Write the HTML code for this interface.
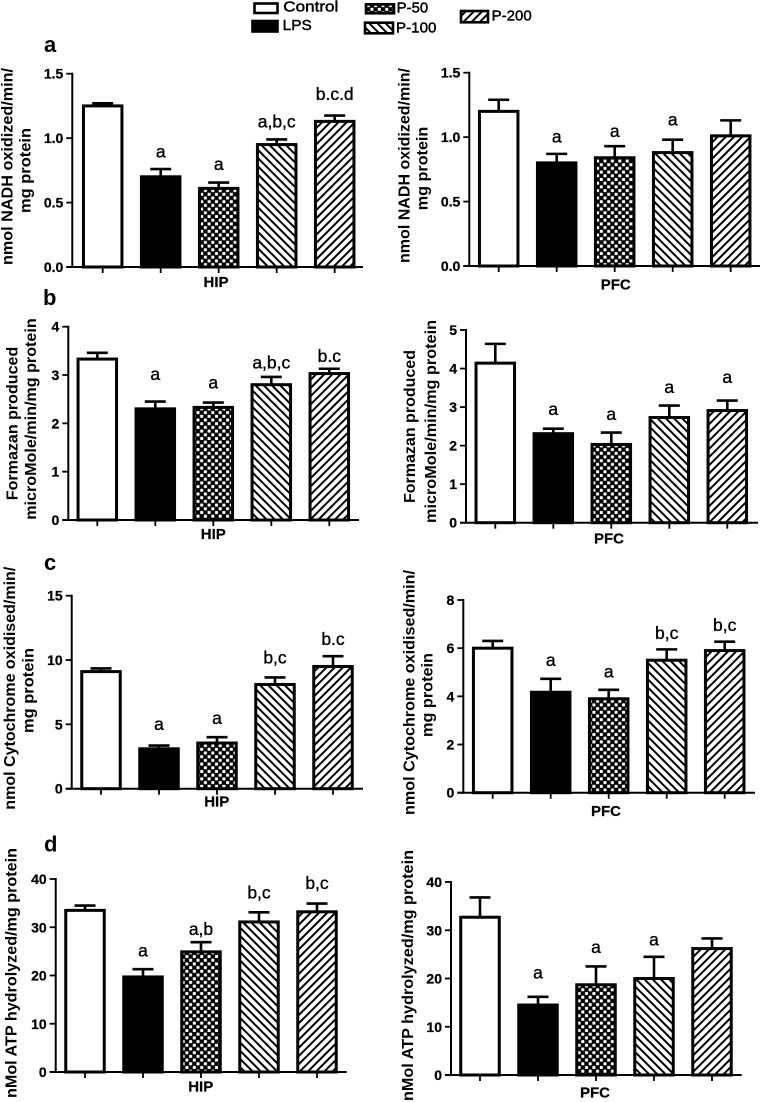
<!DOCTYPE html>
<html lang="en">
<head>
<meta charset="utf-8">
<title>Mitochondrial enzyme activity bar charts</title>
<style>
  html, body { margin: 0; padding: 0; background: #fff; }
  body { width: 761px; height: 1102px; overflow: hidden; }
  svg { display: block; font-family: "Liberation Sans", Arial, sans-serif; filter: blur(0.3px); }
</style>
</head>
<body>
<svg id="figure" xmlns="http://www.w3.org/2000/svg" width="761" height="1102" viewBox="0 0 761 1102">
  <defs>
    <pattern id="fill-check" width="7.4" height="7.4" patternUnits="userSpaceOnUse">
      <rect width="7.4" height="7.4" fill="#000"/>
      <rect x="0.4" y="0.4" width="3" height="3" fill="#fff"/>
      <rect x="4.1" y="4.1" width="3" height="3" fill="#fff"/>
    </pattern>
    <pattern id="fill-back" width="5.8" height="5.8" patternUnits="userSpaceOnUse" patternTransform="rotate(-45)">
      <rect width="5.8" height="5.8" fill="#fff"/>
      <rect width="2" height="5.8" fill="#000"/>
    </pattern>
    <pattern id="fill-fwd" width="5.8" height="5.8" patternUnits="userSpaceOnUse" patternTransform="rotate(45)">
      <rect width="5.8" height="5.8" fill="#fff"/>
      <rect width="2" height="5.8" fill="#000"/>
    </pattern>
  </defs>
</svg>
<script>
// ---- chart data ----
const categories = ['Control', 'LPS', 'P-50', 'P-100', 'P-200'];

const nadhTicks = ['0.0', '0.5', '1.0', '1.5'];
const formazanHipTicks = ['0', '1', '2', '3', '4'];
const formazanPfcTicks = ['0', '1', '2', '3', '4', '5'];
const cytHipTicks = ['0', '5', '10', '15'];
const cytPfcTicks = ['0', '2', '4', '6', '8'];
const atpTicks = ['0', '10', '20', '30', '40'];

const nadhHipValues = [1.25, 0.70, 0.61, 0.95, 1.13];
const nadhHipErrors = [0.02, 0.06, 0.045, 0.04, 0.045];
const nadhHipSig = ['', 'a', 'a', 'a,b,c', 'b.c.d'];
const nadhHipSigLevels = [0, 0.851, 0.753, 1.084, 1.296];

const nadhPfcValues = [1.20, 0.80, 0.84, 0.88, 1.01];
const nadhPfcErrors = [0.09, 0.07, 0.09, 0.10, 0.12];
const nadhPfcSig = ['', 'a', 'a', 'a', ''];
const nadhPfcSigLevels = [0, 0.958, 1.0, 1.09, 0];

const formazanHipValues = [3.33, 2.30, 2.33, 2.80, 3.03];
const formazanHipErrors = [0.13, 0.15, 0.10, 0.16, 0.10];
const formazanHipSig = ['', 'a', 'a', 'a,b,c', 'b.c'];
const formazanHipSigLevels = [0, 2.90, 2.72, 3.14, 3.27];

const formazanPfcValues = [4.14, 2.31, 2.03, 2.73, 2.91];
const formazanPfcErrors = [0.50, 0.13, 0.31, 0.31, 0.26];
const formazanPfcSig = ['', 'a', 'a', 'a', 'a'];
const formazanPfcSigLevels = [0, 2.79, 2.66, 3.36, 3.63];

const cytHipValues = [9.1, 3.1, 3.55, 8.1, 9.5];
const cytHipErrors = [0.25, 0.25, 0.45, 0.55, 0.80];
const cytHipSig = ['', 'a', 'a', 'b,c', 'b.c'];
const cytHipSigLevels = [0, 4.56, 5.03, 9.74, 11.17];

const cytPfcValues = [6.0, 4.17, 3.9, 5.5, 5.9];
const cytPfcErrors = [0.30, 0.56, 0.37, 0.45, 0.37];
const cytPfcSig = ['', 'a', 'a', 'b,c', 'b,c'];
const cytPfcSigLevels = [0, 5.26, 4.79, 6.39, 6.72];

const atpHipValues = [33.5, 19.7, 24.9, 31.1, 33.2];
const atpHipErrors = [1.0, 1.6, 2.0, 2.0, 1.7];
const atpHipSig = ['', 'a', 'a,b', 'b,c', 'b,c'];
const atpHipSigLevels = [0, 23.9, 28.4, 36.0, 37.9];

const atpPfcValues = [32.7, 14.5, 18.7, 20.0, 26.2];
const atpPfcErrors = [4.1, 1.7, 3.8, 4.5, 2.1];
const atpPfcSig = ['', 'a', 'a', 'a', ''];
const atpPfcSigLevels = [0, 20.0, 25.3, 26.8, 0];

// ---- panel layout ----
const barFills = ['#fff', '#000', 'url(#fill-check)', 'url(#fill-back)', 'url(#fill-fwd)'];
const barStep = 58;
const barWidth = 38.5;

const panels = [
  { id: 'nadh-hip', axisX: 72.3, top: 73.7, base: 267, first: 102.7, end: 363, ticks: nadhTicks, values: nadhHipValues, errors: nadhHipErrors, sig: nadhHipSig, sigLevels: nadhHipSigLevels,
    region: 'HIP', regionX: 216, regionY: 287,
    titles: [['nmol NADH oxidized/min/', 12.5, 68, 197], ['mg protein', 30.7, 128, 85]] },
  { id: 'nadh-pfc', axisX: 469.3, top: 72.7, base: 266, first: 498.7, end: 760, ticks: nadhTicks, values: nadhPfcValues, errors: nadhPfcErrors, sig: nadhPfcSig, sigLevels: nadhPfcSigLevels,
    region: 'PFC', regionX: 615.7, regionY: 289.3,
    titles: [['nmol NADH oxidized/min/', 409.3, 68, 195], ['mg protein', 427.3, 126.7, 83.5]] },
  { id: 'formazan-hip', axisX: 68.3, top: 326.7, base: 520, first: 97.3, end: 359, ticks: formazanHipTicks, values: formazanHipValues, errors: formazanHipErrors, sig: formazanHipSig, sigLevels: formazanHipSigLevels,
    region: 'HIP', regionX: 213.3, regionY: 539,
    titles: [['Formazan produced', 17.3, 346.7, 153.5], ['microMole/min/mg protein', 36, 318.3, 201.5]] },
  { id: 'formazan-pfc', axisX: 466, top: 330, base: 522.7, first: 495.3, end: 758, ticks: formazanPfcTicks, values: formazanPfcValues, errors: formazanPfcErrors, sig: formazanPfcSig, sigLevels: formazanPfcSigLevels,
    region: 'PFC', regionX: 609, regionY: 543.3,
    titles: [['Formazan produced', 415, 350, 153], ['microMole/min/mg protein', 436, 320, 203]] },
  { id: 'cytochrome-hip', axisX: 71.7, top: 595.7, base: 788.7, first: 101, end: 363, ticks: cytHipTicks, values: cytHipValues, errors: cytHipErrors, sig: cytHipSig, sigLevels: cytHipSigLevels,
    region: 'HIP', regionX: 216.7, regionY: 806.7,
    titles: [['nmol Cytochrome oxidised/min/', 15, 566.7, 243], ['mg protein', 33.3, 648, 85]] },
  { id: 'cytochrome-pfc', axisX: 463.3, top: 600, base: 792.7, first: 492.7, end: 755, ticks: cytPfcTicks, values: cytPfcValues, errors: cytPfcErrors, sig: cytPfcSig, sigLevels: cytPfcSigLevels,
    region: 'PFC', regionX: 606, regionY: 816,
    titles: [['nmol Cytochrome oxidised/min/', 414.3, 570, 245], ['mg protein', 432.7, 653, 84]] },
  { id: 'atp-hip', axisX: 55.7, top: 879, base: 1072, first: 85, end: 346.7, ticks: atpTicks, values: atpHipValues, errors: atpHipErrors, sig: atpHipSig, sigLevels: atpHipSigLevels,
    region: 'HIP', regionX: 200.7, regionY: 1091.7,
    titles: [['nMol ATP hydrolyzed/mg protein', 16.7, 848, 250]] },
  { id: 'atp-pfc', axisX: 451, top: 882, base: 1075, first: 480, end: 741.7, ticks: atpTicks, values: atpPfcValues, errors: atpPfcErrors, sig: atpPfcSig, sigLevels: atpPfcSigLevels,
    region: 'PFC', regionX: 595, regionY: 1097.3,
    titles: [['nMol ATP hydrolyzed/mg protein', 413, 850, 251]] }
];

const panelLetters = [['a', 44, 52], ['b', 43, 305], ['c', 44, 570], ['d', 44, 851.5]];

const legendBoxes = [
  { x: 254.5, y: 3.5, w: 23, h: 9.5, tx: 283.3, ty: 11.7, tl: 55 },
  { x: 252.5, y: 21, w: 25, h: 10.5, tx: 282.7, ty: 30, tl: 29 },
  { x: 366, y: 4.3, w: 28, h: 9, tx: 396.7, ty: 12.3, tl: 31.5 },
  { x: 365, y: 22.7, w: 28, h: 10.6, tx: 396, ty: 32.3, tl: 40.5 },
  { x: 461, y: 11, w: 27, h: 11.3, tx: 491.7, ty: 20.7, tl: 40 }
];

// ---- drawing ----
const svg = document.getElementById('figure');
const NS = 'http://www.w3.org/2000/svg';

function make(tag, attrs, parent) {
  const node = document.createElementNS(NS, tag);
  for (const key in attrs) node.setAttribute(key, attrs[key]);
  parent.appendChild(node);
  return node;
}

function yScale(panel, value) {
  const maxValue = parseFloat(panel.ticks[panel.ticks.length - 1]);
  return panel.base - (value / maxValue) * (panel.base - panel.top);
}

function xScale(panel, index) {
  return panel.first + index * barStep;
}

panels.forEach(function (panel) {
  const group = make('g', {}, svg);
  
  

  panel.values.forEach(function (value, i) {
    const cx = xScale(panel, i);
    const barTop = yScale(panel, value);
    const errTop = yScale(panel, value + panel.errors[i]);

    const stem = make('line', { x1: cx, x2: cx, y1: barTop, y2: errTop, stroke: '#000', 'stroke-width': 2.6 }, group);
    
    

    const cap = make('line', { x1: cx - 10.5, x2: cx + 10.5, y1: errTop, y2: errTop, stroke: '#000', 'stroke-width': 2.6 }, group);
    
    

    const bar = make('rect', { x: cx - barWidth / 2, y: barTop, width: barWidth, height: panel.base - barTop, fill: barFills[i], stroke: '#000', 'stroke-width': 3 }, group);
    
    

    const tick = make('line', { x1: cx, x2: cx, y1: panel.base, y2: panel.base + 6, stroke: '#000', 'stroke-width': 1.8 }, group);
    
    

    if (panel.sig[i]) {
      const sigLabel = make('text', { x: cx, y: yScale(panel, panel.sigLevels[i]), 'text-anchor': 'middle', 'font-size': 17.5, fill: '#000', stroke: '#000', 'stroke-width': 0.35 }, group);
      sigLabel.textContent = panel.sig[i];
      
      
    }
  });

  const yAxis = make('line', { x1: panel.axisX, x2: panel.axisX, y1: panel.top - 1, y2: panel.base + 1, stroke: '#000', 'stroke-width': 2 }, group);
  
  

  const xAxis = make('line', { x1: panel.axisX - 6, x2: panel.end, y1: panel.base, y2: panel.base, stroke: '#000', 'stroke-width': 2 }, group);
  
  

  panel.ticks.forEach(function (label) {
    const ty = yScale(panel, parseFloat(label));
    const yTick = make('line', { x1: panel.axisX - 6, x2: panel.axisX, y1: ty, y2: ty, stroke: '#000', 'stroke-width': 1.8 }, group);
    
    

    const yLabel = make('text', { x: panel.axisX - 9, y: ty + 5, 'text-anchor': 'end', 'font-size': 14, 'font-weight': 'bold', fill: '#000', stroke: '#000', 'stroke-width': 0.25 }, group);
    yLabel.textContent = label;
    
    
  });

  panel.titles.forEach(function (title) {
    const bottom = title[2] + title[3];
    const yTitle = make('text', { x: 0, y: 0, transform: 'translate(' + title[1] + ',' + bottom + ') rotate(-90)', 'font-size': 15.5, 'font-weight': 'bold', fill: '#000', textLength: title[3], lengthAdjust: 'spacingAndGlyphs' }, group);
    yTitle.textContent = title[0];
    
    
  });

  const region = make('text', { x: panel.regionX, y: panel.regionY, 'text-anchor': 'middle', 'font-size': 15, 'font-weight': 'bold', fill: '#000', stroke: '#000', 'stroke-width': 0.2 }, group);
  region.textContent = panel.region;
  
  
});

panelLetters.forEach(function (item) {
  const letter = make('text', { x: item[1], y: item[2], 'font-size': 22, 'font-weight': 'bold', fill: '#000' }, svg);
  letter.textContent = item[0];
  
  
});

const legend = make('g', {}, svg);



legendBoxes.forEach(function (box, i) {
  const swatch = make('rect', { x: box.x, y: box.y, width: box.w, height: box.h, fill: barFills[i], stroke: '#000', 'stroke-width': 2.6 }, legend);
  
  

  const entry = make('text', { x: box.tx, y: box.ty, 'font-size': 14.5, fill: '#000', stroke: '#000', 'stroke-width': 0.45, textLength: box.tl, lengthAdjust: 'spacingAndGlyphs' }, legend);
  entry.textContent = categories[i];
  
  
});
</script>
</body>
</html>
